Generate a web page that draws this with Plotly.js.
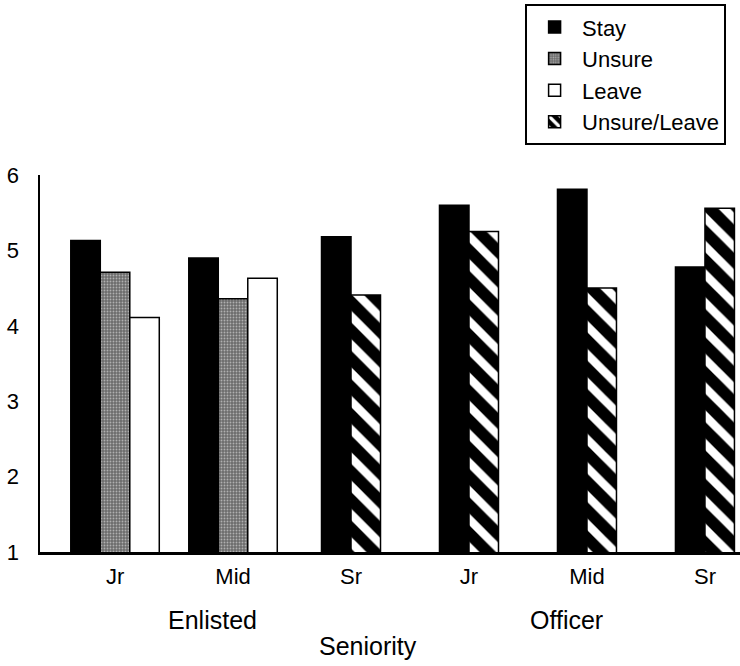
<!DOCTYPE html>
<html>
<head>
<meta charset="utf-8">
<script src="https://cdn.plot.ly/plotly-3.0.1.min.js"></script>
<style>
  html, body { margin: 0; padding: 0; background: #ffffff; }
  #chart { width: 740px; height: 666px; }
</style>
</head>
<body>
<div id="chart"></div>
<script>
// ---- data ----
const groups = ["Enlisted", "Enlisted", "Enlisted", "Officer", "Officer", "Officer"];
const seniority = ["Jr", "Mid", "Sr", "Jr", "Mid", "Sr"];
const stay = [5.13, 4.90, 5.18, 5.60, 5.81, 4.78];
const unsure = [4.71, 4.36, null, null, null, null];
const leave = [4.11, 4.63, null, null, null, null];
const unsureLeave = [null, null, 4.41, 5.25, 4.50, 5.56];
const seriesNames = ["Stay", "Unsure", "Leave", "Unsure/Leave"];
const yTickVals = [1, 2, 3, 4, 5, 6];

// ---- layout helpers ----
const FONT = "Liberation Sans, Arial, sans-serif";
const xIdx = seniority.map((_, i) => i);
const barW = 0.25;
const allSeries = [stay, unsure, leave, unsureLeave];

// offsets so that the bars present in each group sit side by side, centred
function offsetsFor(sIndex) {
  return xIdx.map(i => {
    const present = allSeries.map((s, k) => (s[i] === null ? -1 : k)).filter(k => k >= 0);
    const n = present.length;
    const rank = present.indexOf(sIndex);
    return (rank - n / 2) * barW;
  });
}

const styles = [
  { color: "#000000" },
  { color: "#7a7a7a", pattern: { shape: ".", bgcolor: "#6c6c6c", fgcolor: "#b0b0b0", size: 3, solidity: 0.3 } },
  { color: "#ffffff" },
  { color: "#000000", pattern: { shape: "\\", bgcolor: "#000000", fgcolor: "#ffffff", size: 20, solidity: 0.42 } }
];

const traces = allSeries.map((vals, k) => {
  const marker = { color: styles[k].color, line: { color: "#000000", width: 1.5 } };
  if (styles[k].pattern) marker.pattern = Object.assign({ fillmode: "replace" }, styles[k].pattern);
  return {
    type: "bar",
    name: seriesNames[k],
    legendgroup: "g" + k,
    x: xIdx,
    y: vals,
    width: barW,
    offset: offsetsFor(k),
    marker: marker,
    hoverinfo: "skip"
  };
});

// group labels (Enlisted / Officer) centred under their seniority ticks
const groupNames = [...new Set(groups)];
const groupAnnots = groupNames.map(g => {
  const idx = xIdx.filter(i => groups[i] === g);
  const mid = (idx[0] + idx[idx.length - 1]) / 2;
  return {
    text: g, xref: "x", yref: "paper", x: mid - 0.17, y: -0.180,
    xanchor: "center", yanchor: "middle", showarrow: false,
    font: { family: FONT, size: 25, color: "#000000" }
  };
});

const layout = {
  width: 740, height: 666,
  paper_bgcolor: "#ffffff", plot_bgcolor: "#ffffff",
  margin: { l: 40, r: 0, t: 175, b: 114 },
  barmode: "overlay",
  showlegend: true,
  legend: {
    x: 0.693, y: 1.453, xanchor: "left", yanchor: "top",
    bgcolor: "#ffffff", bordercolor: "#000000", borderwidth: 2,
    font: { family: FONT, size: 22, color: "#000000" },
    itemwidth: 45,
    tracegroupgap: 0, traceorder: "normal"
  },
  xaxis: {
    range: [-0.636, 5.297],
    tickvals: xIdx, ticktext: seniority,
    showline: true, linecolor: "#000000", linewidth: 2.5,
    showgrid: false, zeroline: false,
    ticks: "outside", ticklen: 3, tickcolor: "rgba(0,0,0,0)",
    tickfont: { family: FONT, size: 22, color: "#000000" },
    fixedrange: true
  },
  yaxis: {
    range: [1, 6],
    tickvals: yTickVals,
    showline: true, linecolor: "#000000", linewidth: 2.5,
    showgrid: false, zeroline: false,
    ticks: "outside", ticklen: 14, tickcolor: "rgba(0,0,0,0)",
    tickfont: { family: FONT, size: 22, color: "#000000" },
    fixedrange: true
  },
  annotations: groupAnnots.concat([{
    text: "Seniority", xref: "paper", yref: "paper", x: 0.468, y: -0.249,
    xanchor: "center", yanchor: "middle", showarrow: false,
    font: { family: FONT, size: 25, color: "#000000" }
  }])
};

Plotly.newPlot("chart", traces, layout, { staticPlot: true, displayModeBar: false });
</script>
</body>
</html>
